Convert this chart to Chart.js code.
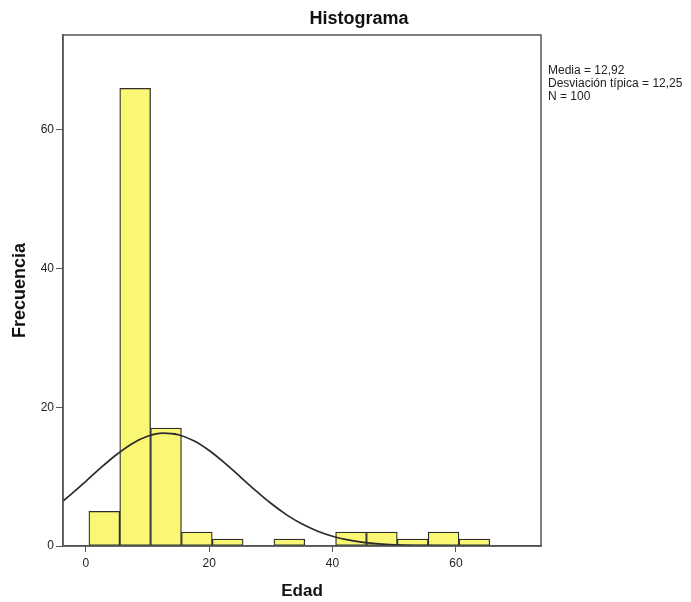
<!DOCTYPE html>
<html>
<head>
<meta charset="utf-8">
<script src="https://cdn.jsdelivr.net/npm/chart.js@4/dist/chart.umd.min.js"></script>
<style>
  html, body { margin: 0; padding: 0; background: #fff; }
  #wrap { width: 691px; height: 602px; }
</style>
</head>
<body>
<div id="wrap"><canvas id="histo" width="691" height="602"></canvas></div>
<script>
var binStart = [0.5, 5.5, 10.5, 15.5, 20.5, 25.5, 30.5, 35.5, 40.5, 45.5, 50.5, 55.5, 60.5];
var binWidth = 5;
var counts = [5, 66, 17, 2, 1, null, 1, null, 2, 2, 1, 2, 1];

// curva normal
var curveX = [-4, -2.5, 0, 2.5, 5, 7.5, 10, 12.5, 15, 17.5, 20, 22.5, 25, 27.5, 30, 32.5, 35, 37.5, 40, 42.5, 45, 47.5, 50, 55, 60, 65, 70, 74];
var curveY = [6.27, 7.37, 9.33, 11.34, 13.2, 14.76, 15.82, 16.27, 16.05, 15.18, 13.78, 11.99, 10.01, 8.02, 6.16, 4.53, 3.2, 2.17, 1.41, 0.88, 0.53, 0.3, 0.17, 0.05, 0.01, 0, 0, 0];

var xTicks = [0, 20, 40, 60];
var yTicks = [0, 20, 40, 60];
var titleText = 'Histograma';
var statLines = ['Media = 12,92', 'Desviación típica = 12,25', 'N = 100'];

var FONT = 'Arial, "Liberation Sans", sans-serif';

// barras
var barData = binStart.map(function (s, i) {
  return { x: s + binWidth / 2, y: counts[i] };
});
var lineData = curveX.map(function (x, i) {
  return { x: x, y: curveY[i] };
});

// marco completo alrededor del area + titulo + texto de estadisticos
const framePlugin = {
  id: 'frame',
  afterDatasetsDraw(chart) {
    const a = chart.chartArea;
    const ctx = chart.ctx;
    ctx.save();
    ctx.strokeStyle = '#555';
    ctx.lineWidth = 1.5;
    ctx.strokeRect(a.left, a.top, a.right - a.left, a.bottom - a.top);
    ctx.restore();
  },
  afterDraw(chart) {
    const ctx = chart.ctx;
    ctx.save();
    ctx.fillStyle = '#111';
    ctx.font = 'bold 18px ' + FONT;
    ctx.textAlign = 'center';
    ctx.textBaseline = 'middle';
    ctx.fillText(titleText, 359, 19);

    ctx.fillStyle = '#222';
    ctx.font = '12px ' + FONT;
    ctx.textAlign = 'left';
    ctx.textBaseline = 'alphabetic';
    statLines.forEach(function (t, i) {
      ctx.fillText(t, 548, 73.5 + i * 13.4);
    });
    ctx.restore();
  }
};

const config = {
  data: {
    datasets: [
      {
        type: 'line',
        data: lineData,
        borderColor: '#2b2b2b',
        borderWidth: 1.7,
        pointRadius: 0,
        cubicInterpolationMode: 'monotone',
        fill: false,
        order: 0
      },
      {
        type: 'bar',
        data: barData,
        backgroundColor: '#f9f774',
        borderColor: '#2e2e2e',
        borderWidth: 1.3,
        borderSkipped: false,
        barPercentage: 1,
        categoryPercentage: 1,
        grouped: false,
        order: 1
      }
    ]
  },
  options: {
    responsive: false,
    animation: false,
    layout: { padding: { left: 0, right: 150, top: 35, bottom: 0 } },
    plugins: {
      legend: { display: false },
      tooltip: { enabled: false },
      title: { display: false }
    },
    scales: {
      x: {
        type: 'linear',
        offset: false,
        min: -3.7,
        max: 73.8,
        afterFit: function (s) { s.height = 56; },
        afterBuildTicks: function (s) {
          s.ticks = xTicks.map(function (v) { return { value: v }; });
        },
        grid: { display: true, offset: false, drawOnChartArea: false, drawTicks: true, tickLength: 6, color: '#555' },
        border: { display: true, color: '#555', width: 1.5 },
        ticks: { color: '#222', font: { family: FONT, size: 12 }, padding: 4, maxRotation: 0 },
        title: {
          display: true,
          text: 'Edad',
          color: '#111',
          font: { family: FONT, size: 17, weight: 'bold' },
          padding: { top: 0, bottom: 0 }
        }
      },
      y: {
        type: 'linear',
        min: 0,
        max: 73.7,
        afterFit: function (s) { s.width = 63; },
        afterBuildTicks: function (s) {
          s.ticks = yTicks.map(function (v) { return { value: v }; });
        },
        grid: { display: true, drawOnChartArea: false, drawTicks: true, tickLength: 7, color: '#555' },
        border: { display: true, color: '#555', width: 1.5 },
        ticks: { color: '#222', font: { family: FONT, size: 12 }, padding: 2 },
        title: {
          display: true,
          text: 'Frecuencia',
          color: '#111',
          font: { family: FONT, size: 18, weight: 'bold' },
          padding: { top: 9, bottom: 0 }
        }
      }
    }
  },
  plugins: [framePlugin]
};

var myChart = new Chart(document.querySelector('#histo'), config);
</script>
</body>
</html>
